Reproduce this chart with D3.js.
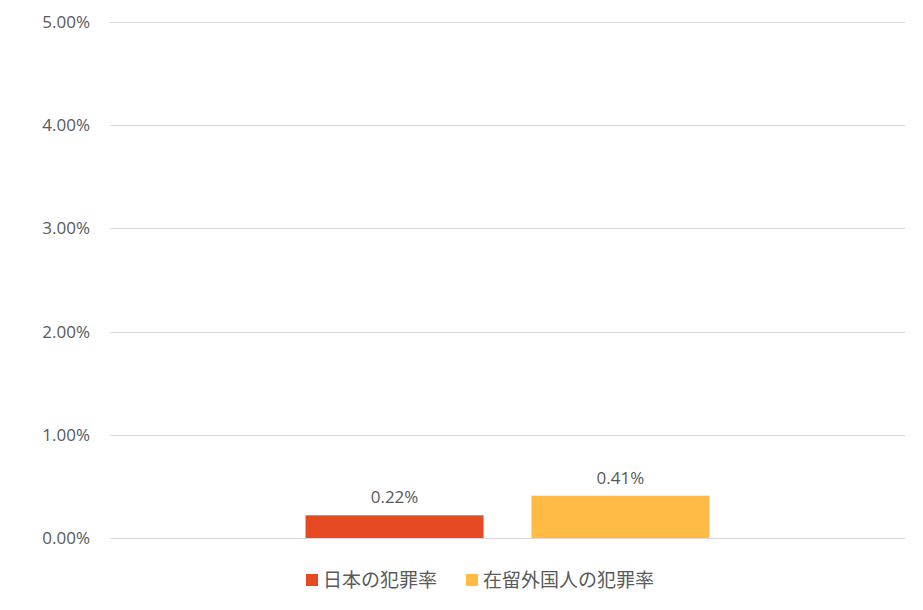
<!DOCTYPE html>
<html>
<head>
<meta charset="utf-8">
<script src="https://cdn.jsdelivr.net/npm/d3@7"></script>
<style>
  body { margin: 0; background: #fff; }
  text { fill: #595959; }
</style>
</head>
<body>
<div id="chart"></div>
<script>
var categories = [""]
var seriesNames = ["日本の犯罪率", "在留外国人の犯罪率"]
var seriesValues = [0.0022, 0.0041]
var seriesColors = ["#E64A23", "#FFBB46"]
var yTicks = [0, 0.01, 0.02, 0.03, 0.04, 0.05]

var width = 923, height = 610
var plotLeft = 110, plotRight = 905, plotTop = 22, plotBottom = 538

var svg = d3.select("#chart").append("svg")
    .attr("width", width)
    .attr("height", height)
    .style("font-family", "'Open Sans', 'Noto Sans CJK JP', sans-serif")

var y = d3.scaleLinear().domain([0, 0.05]).range([plotBottom, plotTop])

var x0 = d3.scaleBand().domain(categories).range([plotLeft, plotRight])
    .paddingInner(0).paddingOuter(0.484)
var x1 = d3.scaleBand().domain(seriesNames).range([0, x0.bandwidth()])
    .paddingInner(0.212).paddingOuter(0)

// gridlines
svg.append("g").selectAll("line")
  .data(yTicks)
  .enter().append("line")
    .attr("x1", plotLeft).attr("x2", plotRight)
    .attr("y1", function(d) { return Math.round(y(d)) + 0.5 })
    .attr("y2", function(d) { return Math.round(y(d)) + 0.5 })
    .attr("stroke", "#D9D9D9")
    .attr("stroke-width", 1)

// y labels
svg.append("g").selectAll("text")
  .data(yTicks)
  .enter().append("text")
    .attr("x", 90)
    .attr("y", function(d) { return y(d) })
    .attr("dy", "0.35em")
    .attr("text-anchor", "end")
    .style("font-size", "17px")
    .text(function(d) { return d3.format(".2%")(d) })

var bars = seriesNames.map(function(name, i) {
  return { name: name, value: seriesValues[i], color: seriesColors[i] }
})

var g = svg.append("g")
    .attr("transform", "translate(" + x0(categories[0]) + ",0)")

g.selectAll("rect")
  .data(bars)
  .enter().append("rect")
    .attr("x", function(d) { return x1(d.name) })
    .attr("y", function(d) { return y(d.value) })
    .attr("width", x1.bandwidth())
    .attr("height", function(d) { return plotBottom - y(d.value) })
    .attr("fill", function(d) { return d.color })

g.selectAll("text.val")
  .data(bars)
  .enter().append("text")
    .attr("class", "val")
    .attr("x", function(d) { return x1(d.name) + x1.bandwidth() / 2 })
    .attr("y", function(d) { return y(d.value) - 12 })
    .attr("text-anchor", "middle")
    .style("font-size", "17px")
    .text(function(d) { return d3.format(".2%")(d.value) })

// legend
var legendX = [306, 466]
var lg = svg.append("g").selectAll("g")
  .data(bars)
  .enter().append("g")
    .attr("transform", function(d, i) { return "translate(" + legendX[i] + ",574)" })
lg.append("rect")
    .attr("width", 12).attr("height", 12)
    .attr("fill", function(d) { return d.color })
lg.append("text")
    .attr("x", 17)
    .attr("y", 6)
    .attr("dy", "0.35em")
    .style("font-family", "'Noto Sans CJK JP', sans-serif")
    .style("font-size", "19px")
    .text(function(d) { return d.name })
</script>
</body>
</html>
